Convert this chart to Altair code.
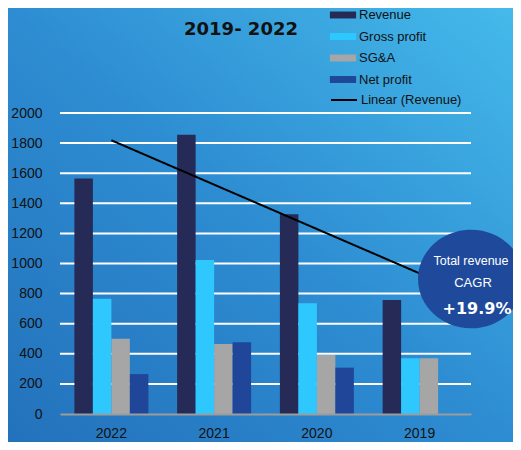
import altair as alt
import numpy as np
import pandas as pd

# ---- data ----
years = ["2022", "2021", "2020", "2019"]
series_names = ["Revenue", "Gross profit", "SG&A", "Net profit"]
revenue = [1565, 1855, 1328, 758]
gross_profit = [765, 1024, 736, 370]
sga = [500, 465, 392, 370]
net_profit = [265, 477, 308, None]
series_colors = ["#262a56", "#2ec8ff", "#a6a6a6", "#1f4699"]
y_ticks = [0, 200, 400, 600, 800, 1000, 1200, 1400, 1600, 1800, 2000]
trend_label = "Linear (Revenue)"
title_text = "2019- 2022"
badge_lines = ["Total revenue", "CAGR", "+19.9%"]

# ---- tables ----
rows = []
for name, vals in zip(series_names, [revenue, gross_profit, sga, net_profit]):
    for yr, v in zip(years, vals):
        if v is not None:
            rows.append({"year": yr, "series": name, "value": v})
bars_df = pd.DataFrame(rows)

idx = np.arange(1, len(years) + 1)
slope, intercept = np.polyfit(idx, np.array(revenue, dtype=float), 1)
trend_df = pd.DataFrame({"year": years, "trend": slope * idx + intercept, "name": trend_label})
grid_df = pd.DataFrame({"tick": y_ticks[1:]})

W, H = 411, 301
FONT = "Liberation Sans"

x_scale = alt.Scale(domain=years, paddingInner=0.28, paddingOuter=0.14)
y_scale = alt.Scale(domain=[0, 2000], nice=False)
y_axis = alt.Axis(title=None, values=y_ticks, format="d", ticks=False, domain=False,
                  grid=False, zindex=1,
                  labelFont=FONT, labelFontSize=14, labelColor="#111111",
                  labelPadding=18)

bg = alt.Chart(pd.DataFrame({"a": [0]})).mark_rect(
    fill=alt.Gradient(
        gradient="linear",
        stops=[alt.GradientStop(color="#2270ba", offset=0),
               alt.GradientStop(color="#2e8dd2", offset=0.5),
               alt.GradientStop(color="#46bdec", offset=1)],
        x1=0, y1=1, x2=1, y2=0),
).encode(x=alt.value(-70), x2=alt.value(W + 60), y=alt.value(-120), y2=alt.value(H + 40))

grid = alt.Chart(grid_df).mark_rule(color="white", strokeWidth=2).encode(
    y=alt.Y("tick:Q", scale=y_scale, axis=y_axis))

bars = alt.Chart(bars_df).mark_bar().encode(
    x=alt.X("year:N", scale=x_scale, sort=years,
            axis=alt.Axis(title=None, labelAngle=0, ticks=False, grid=False, zindex=1,
                          domain=True, domainColor="#9c9c9c", domainWidth=2,
                          labelFont=FONT, labelFontSize=14, labelColor="#111111",
                          labelPadding=12)),
    xOffset=alt.XOffset("series:N", sort=series_names,
                        scale=alt.Scale(domain=series_names, paddingInner=0, paddingOuter=0)),
    y=alt.Y("value:Q", scale=y_scale, axis=y_axis),
    color=alt.Color("series:N", sort=series_names,
                    scale=alt.Scale(domain=series_names, range=series_colors),
                    legend=alt.Legend(orient="none", legendX=272.5, legendY=-108.5, title=None,
                                      symbolType="M-1.25,-0.33H1.25V0.33H-1.25Z",
                                      symbolSize=441, symbolStrokeWidth=0, symbolOpacity=1,
                                      rowPadding=3.5, padding=0, labelOffset=5.5,
                                      labelFont=FONT, labelFontSize=13, labelColor="#111111")),
)

line = alt.Chart(trend_df).mark_line(color="black", strokeWidth=2).encode(
    x=alt.X("year:N", scale=x_scale, sort=years),
    y=alt.Y("trend:Q", scale=y_scale, axis=y_axis),
    strokeDash=alt.StrokeDash("name:N",
                              scale=alt.Scale(domain=[trend_label], range=[[1, 0]]),
                              legend=alt.Legend(orient="none", legendX=270, legendY=-27, title=None,
                                                symbolType="stroke", symbolSize=676,
                                                symbolStrokeColor="black", symbolStrokeWidth=2,
                                                padding=0, labelOffset=3,
                                                labelFont=FONT, labelFontSize=13,
                                                labelColor="#111111")),
)

badge = alt.Chart(pd.DataFrame({"a": [0]})).mark_point(
    shape="M-1,0A1,0.93,0,1,0,1,0A1,0.93,0,1,0,-1,0Z", filled=True,
    fill="#1f4a9c", opacity=1, size=11236, strokeWidth=0,
).encode(x=alt.value(411), y=alt.value(166))

badge_df = pd.DataFrame({"t": badge_lines})
t1 = alt.Chart(badge_df.iloc[[0]]).mark_text(font=FONT, fontSize=12.5, color="white").encode(
    text="t:N", x=alt.value(411), y=alt.value(148))
t2 = alt.Chart(badge_df.iloc[[1]]).mark_text(font=FONT, fontSize=13, color="white").encode(
    text="t:N", x=alt.value(413), y=alt.value(170))
t3 = alt.Chart(badge_df.iloc[[2]]).mark_text(font="DejaVu Sans", fontSize=16, fontWeight="bold",
                                             color="white").encode(
    text="t:N", x=alt.value(417), y=alt.value(196))

title = alt.Chart(pd.DataFrame({"t": [title_text]})).mark_text(
    font="DejaVu Sans", fontSize=18, fontWeight="bold", color="#111111").encode(
    text="t:N", x=alt.value(181), y=alt.value(-83))

chart = alt.layer(bg, grid, bars, line, badge, t1, t2, t3, title).properties(
    width=W, height=H,
    autosize=alt.AutoSizeParams(type="none"),
    padding={"left": 52, "top": 105, "right": 42, "bottom": 28},
    background="#2e8dd2",
).configure_view(stroke=None).resolve_scale(x="shared")

chart.save("out.html", embed_options={"renderer": "svg", "actions": False})
